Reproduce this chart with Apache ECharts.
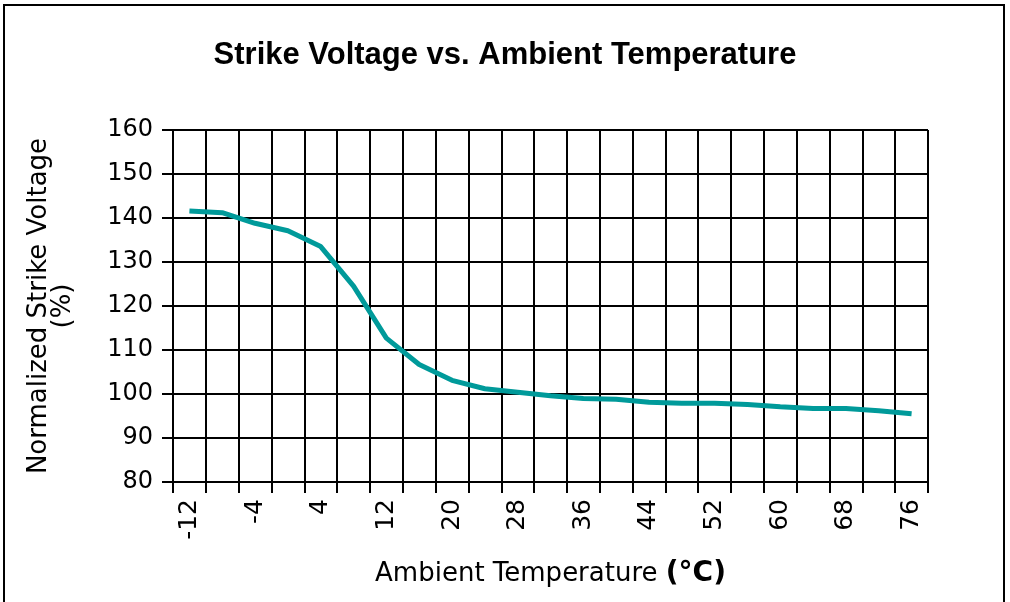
<!DOCTYPE html>
<html>
<head>
<meta charset="utf-8">
<script src="https://cdn.jsdelivr.net/npm/echarts@6/dist/echarts.min.js"></script>
<style>
html,body{margin:0;padding:0;background:#fff;}
#chart{width:1010px;height:602px;}
</style>
</head>
<body>
<div id="chart"></div>
<script>
var categories = ['-12','-8','-4','0','4','8','12','16','20','24','28','32','36','40','44','48','52','56','60','64','68','72','76'];
var strikeVoltage = [141.6,141.2,138.8,137.1,133.5,124.5,112.7,106.7,103.1,101.2,100.4,99.6,99.0,98.8,98.1,97.9,97.9,97.6,97.1,96.7,96.7,96.2,95.5];
var yMin = 80, yMax = 160, yStep = 10;

var chart = echarts.init(document.getElementById('chart'), null, {renderer:'canvas'});
var blackLine = {color:'#000', width:2};
chart.setOption({
  animation:false,
  backgroundColor:'#fff',
  title:{
    text:'Strike Voltage vs. Ambient Temperature',
    left:'center', top:35,
    textStyle:{fontFamily:'Liberation Sans', fontWeight:'bold', fontSize:31, color:'#000'}
  },
  graphic:[{
    type:'rect', shape:{x:4, y:5, width:1000, height:640},
    style:{fill:'none', stroke:'#000', lineWidth:2}, silent:true
  }],
  grid:{left:173, right:82, top:130, bottom:120},
  xAxis:{
    type:'category', data:categories, boundaryGap:true,
    name:'Ambient Temperature {b|(°C)}', nameLocation:'middle', nameGap:78,
    nameTextStyle:{fontFamily:'DejaVu Sans', fontSize:26, color:'#000',
      rich:{b:{fontFamily:'DejaVu Sans', fontWeight:'bold', fontSize:28, color:'#000'}}},
    axisLine:{show:true, lineStyle:blackLine},
    axisTick:{show:true, interval:0, length:11, lineStyle:blackLine},
    splitLine:{show:true, interval:0, lineStyle:blackLine},
    axisLabel:{interval:1, rotate:90, margin:17, fontFamily:'DejaVu Sans', fontSize:25, color:'#000'}
  },
  yAxis:{
    type:'value', min:yMin, max:yMax, interval:yStep,
    name:'Normalized Strike Voltage\n(%)', nameLocation:'middle', nameGap:98, nameRotate:90,
    nameTextStyle:{fontFamily:'DejaVu Sans', fontSize:26, color:'#000', lineHeight:24},
    axisLine:{show:true, lineStyle:blackLine},
    axisTick:{show:true, length:11, lineStyle:blackLine},
    splitLine:{show:true, lineStyle:blackLine},
    axisLabel:{margin:20, fontFamily:'DejaVu Sans', fontSize:24, color:'#000'}
  },
  series:[{
    type:'line', data:strikeVoltage, symbol:'none',
    lineStyle:{color:'#009a9a', width:5, cap:'butt'}
  }]
});
</script>
</body>
</html>
